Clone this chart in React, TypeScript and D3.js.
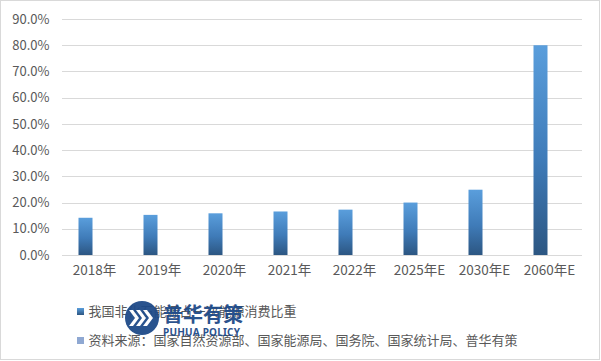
import React from "react";
import * as d3 from "d3";

const categories = ["2018年", "2019年", "2020年", "2021年", "2022年", "2025年E", "2030年E", "2060年E"];
const shareValues = [14.2, 15.3, 15.9, 16.6, 17.3, 20.0, 24.9, 80.0];
const yTicks = [0, 10, 20, 30, 40, 50, 60, 70, 80, 90];
const legendLabels = [
  "我国非化石能源占一次能源消费比重",
  "资料来源：国家自然资源部、国家能源局、国务院、国家统计局、普华有策",
];

const W = 601;
const H = 361;
const FONT = "'Microsoft YaHei', 'Noto Sans CJK SC', 'Noto Sans', sans-serif";

export default function App() {
  const left = 62;
  const right = 582;
  const top = 19;
  const bottom = 255;

  const x = d3.scaleBand<string>().domain(categories).range([left, right]).padding(0);
  const y = d3.scaleLinear().domain([0, 90]).range([bottom, top]);
  const barW = 14;
  const barOffset = -16;

  return (
    <div style={{ position: "absolute", left: 0, top: 0 }}>
      <svg width={W} height={H} style={{ display: "block", fontFamily: FONT }}>
        <defs>
          <linearGradient id="barGrad" x1="0" y1="0" x2="0" y2="1">
            <stop offset="0%" stopColor="#5A9EDC" />
            <stop offset="55%" stopColor="#3F7BB8" />
            <stop offset="100%" stopColor="#2C5682" />
          </linearGradient>
          <linearGradient id="legGrad" x1="0" y1="0" x2="0" y2="1">
            <stop offset="0%" stopColor="#5A9EDC" />
            <stop offset="100%" stopColor="#2C5682" />
          </linearGradient>
        </defs>
        <rect x={0} y={0} width={W} height={H} fill="#fff" />
        <rect x={0.5} y={0.5} width={599} height={359} fill="none" stroke="#D9D9D9" strokeWidth={1} />

        {yTicks.map((t) => (
          <g key={t}>
            <line x1={left} x2={right} y1={Math.round(y(t)) + 0.5} y2={Math.round(y(t)) + 0.5} stroke="#D9D9D9" strokeWidth={1} />
            <text x={49.5} y={y(t)} dy="0.36em" textAnchor="end" fontSize={13} fill="#595959">
              {t.toFixed(1) + "%"}
            </text>
          </g>
        ))}

        {categories.map((c, i) => {
          const cx = (x(c) as number) + x.bandwidth() / 2;
          const v = shareValues[i];
          return (
            <g key={c}>
              <rect x={cx + barOffset} y={y(v)} width={barW} height={bottom - y(v)} fill="url(#barGrad)" />
              <text x={cx} y={275} textAnchor="middle" fontSize={13.5} fill="#595959">
                {c}
              </text>
            </g>
          );
        })}

        <g>
          <rect x={77} y={308} width={7} height={7} fill="url(#legGrad)" />
          <text x={88.5} y={311.5} dy="0.36em" fontSize={13} fill="#595959">
            {legendLabels[0]}
          </text>
          <rect x={77} y={337} width={7} height={7} fill="#8FA8D2" />
          <text x={88.5} y={340.5} dy="0.36em" fontSize={13} fill="#595959">
            {legendLabels[1]}
          </text>
        </g>

        <g opacity={0.95}>
          <circle cx={142} cy={318} r={17} fill="#1E4A88" />
          {[0, 1, 2].map((k) => (
            <path
              key={k}
              d={`M${129 + k * 7},${310} l6,8 l-6,8 h4 l6,-8 l-6,-8 z`}
              fill="#fff"
            />
          ))}
          <text x={163} y={322} fontSize={20} fontWeight="bold" fill="#1E4A88" fontFamily="'Noto Sans CJK SC', sans-serif">
            普华有策
          </text>
          <text x={163} y={336} fontSize={10} fontWeight="bold" fill="#1E4A88" textLength={77} fontFamily="'Noto Sans', sans-serif">
            PUHUA POLICY
          </text>
        </g>
      </svg>
    </div>
  );
}
